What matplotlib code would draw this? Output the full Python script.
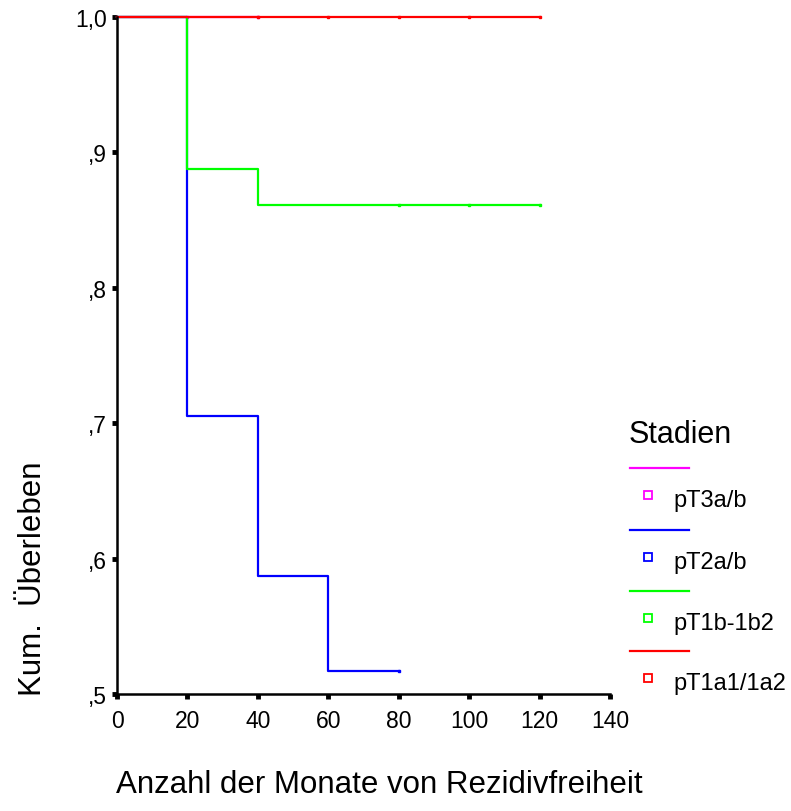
import matplotlib.pyplot as plt
from matplotlib.lines import Line2D
from matplotlib.ticker import FuncFormatter

plt.rcParams['font.family'] = ['Liberation Sans', 'DejaVu Sans']

# Kaplan-Meier Stufen je Stadium (Zeitpunkte in Monaten, kumulatives Ueberleben)
stadien = ['pT3a/b', 'pT2a/b', 'pT1b-1b2', 'pT1a1/1a2']
farben = ['#ff00ff', '#0000ff', '#00ff00', '#ff0000']

t_pt3 = [0, 40]
s_pt3 = [1.0, 1.0]
z_pt3 = [20, 40]

t_pt2 = [0, 20, 40, 60, 80]
s_pt2 = [1.0, 0.705, 0.587, 0.517, 0.517]
z_pt2 = [80]

t_pt1b = [0, 20, 40, 120]
s_pt1b = [1.0, 0.888, 0.861, 0.861]
z_pt1b = [80, 100, 120]

t_pt1a = [0, 120]
s_pt1a = [1.0, 1.0]
z_pt1a = [40, 60, 80, 100, 120]

kurven = [(t_pt3, s_pt3, z_pt3), (t_pt2, s_pt2, z_pt2),
          (t_pt1b, s_pt1b, z_pt1b), (t_pt1a, s_pt1a, z_pt1a)]

fig = plt.figure(figsize=(7.91, 8.12), dpi=100)
ax = fig.add_axes([117 / 791, 117 / 812, 493 / 791, 677 / 812])

for (t, s, zens), farbe in zip(kurven, farben):
    ax.step(t, s, where='post', color=farbe, linewidth=1.6, clip_on=False)
    # zensierte Faelle
    zs = [s[max(i for i, tt in enumerate(t) if tt <= z)] for z in zens]
    ax.plot(zens, zs, linestyle='none', marker='s', markersize=1.8,
            color=farbe, clip_on=False)

ax.set_xlim(0, 140)
ax.set_ylim(0.5, 1.0)
ax.set_xticks(range(0, 141, 20))
ax.set_yticks([0.5, 0.6, 0.7, 0.8, 0.9, 1.0])


def komma(v, pos):
    txt = f'{v:.1f}'.replace('.', ',')
    return txt[1:] if txt.startswith('0') else txt


ax.yaxis.set_major_formatter(FuncFormatter(komma))
ax.tick_params(direction='out', length=3.5, width=3.5, labelsize=16.5)
ax.tick_params(axis='x', pad=7)
ax.tick_params(axis='y', pad=4)
for seite in ['top', 'right']:
    ax.spines[seite].set_visible(False)
for seite in ['left', 'bottom']:
    ax.spines[seite].set_linewidth(1.8)

fig.text(379 / 791, 1 - 785 / 812, 'Anzahl der Monate von Rezidivfreiheit',
         ha='center', va='center', fontsize=22.5)
fig.text(33 / 791, 1 - 579 / 812, 'Kum.  Überleben', rotation=90,
         ha='center', va='center', fontsize=22.5)

# Legende
fig.text(629 / 791, 1 - 435 / 812, 'Stadien', ha='left', va='center', fontsize=22)
linien_y = [469, 531, 592, 652]
for name, farbe, ly in zip(stadien, farben, linien_y):
    fig.add_artist(Line2D([630 / 791, 689 / 791], [1 - ly / 812, 1 - ly / 812],
                          color=farbe, linewidth=1.6))
    qy = 1 - (ly + 27) / 812
    fig.add_artist(Line2D([648 / 791], [qy], marker='s', markersize=5.5,
                          markerfacecolor='none', markeredgecolor=farbe,
                          markeredgewidth=1.3, linestyle='none'))
    fig.text(673 / 791, 1 - (ly + 32) / 812, name, ha='left', va='center',
             fontsize=17)

fig.savefig('out.png', dpi=100)
